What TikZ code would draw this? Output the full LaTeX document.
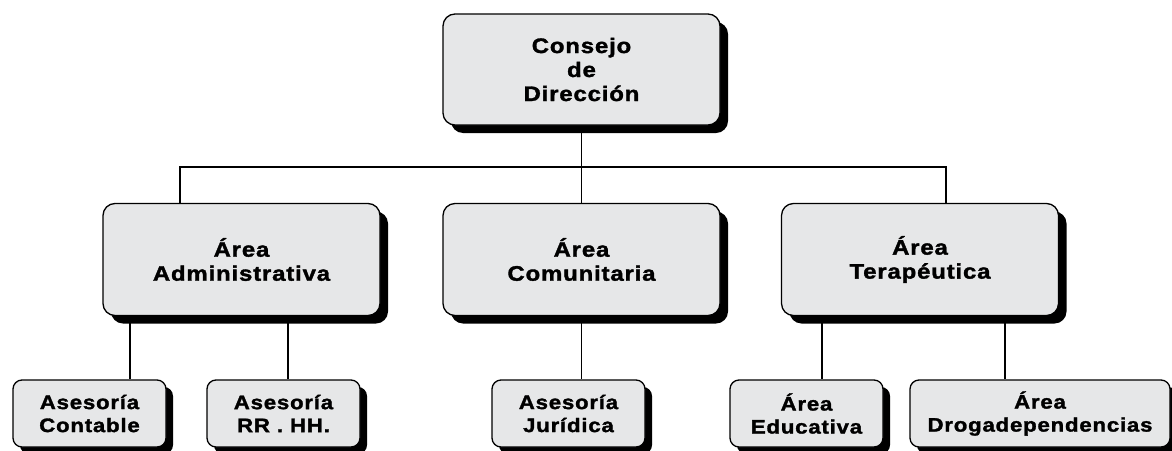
\documentclass[tikz,border=0pt]{standalone}
\usepackage{fontspec}
\setmainfont{Liberation Sans}[FakeStretch=1.14, LetterSpace=4, FakeBold=1.6]
\usetikzlibrary{shadows,backgrounds}
\definecolor{boxgray}{HTML}{E6E7E8}
\tikzset{
  box/.style={draw=black, line width=1.3pt, fill=boxgray, align=center,
    inner sep=0pt, text=black},
  bigbox/.style={box, rounded corners=12pt, minimum width=277pt, minimum height=111pt,
    font=\fontsize{21}{24}\selectfont,
    drop shadow={shadow xshift=8pt, shadow yshift=-8pt, fill=black, opacity=1}},
  smallbox/.style={box, rounded corners=9pt, minimum height=67pt,
    font=\fontsize{19.5}{23}\selectfont,
    drop shadow={shadow xshift=7pt, shadow yshift=-7pt, fill=black, opacity=1}},
  conn/.style={line width=1.5pt, draw=black}
}
\begin{document}
\begin{tikzpicture}[x=1pt,y=-1pt]
\useasboundingbox (0,0) rectangle (1172,450);
% top
\node[bigbox] (top) at (581.5,69.5) {\bfseries Consejo\\\bfseries de\\\bfseries Dirección};
% middle
\node[bigbox, minimum height=112pt] (adm) at (241.5,259.5) {\bfseries Área\\\bfseries Administrativa};
\node[bigbox, minimum height=112pt] (com) at (581.5,259.5) {\bfseries Área\\\bfseries Comunitaria};
\node[bigbox, minimum height=112pt] (ter) at (920,259.5) {\bfseries Área\\\bfseries Terapéutica};
% bottom
\node[smallbox, minimum width=153pt] (cont) at (89.5,413.5) {\bfseries Asesoría\\\bfseries Contable};
\node[smallbox, minimum width=153pt] (rrhh) at (283.5,413.5) {\bfseries Asesoría\\\bfseries RR . HH.};
\node[smallbox, minimum width=153pt] (jur) at (568.5,413.5) {\bfseries Asesoría\\\bfseries Jurídica};
\node[smallbox, minimum width=153pt] (edu) at (806.5,413.5) {\bfseries Área\\\bfseries Educativa};
\node[smallbox, minimum width=260pt] (dro) at (1040,413.5) {\bfseries Área\\\bfseries Drogadependencias};
% connectors
\coordinate (busL) at (180,167);
\coordinate (busR) at (946,167);
\coordinate (a1) at (130,330);
\coordinate (a2) at (288,330);
\coordinate (c1) at (581.5,330);
\coordinate (t1) at (822,330);
\coordinate (t2) at (1005,330);
\begin{pgfonlayer}{background}
\draw[conn] (top.south) -- (top.south |- busL);
\draw[conn] (busL |- adm.north) -- (busL) -- (busR) -- (busR |- ter.north);
\draw[conn] (com.north) -- (com.north |- busL);
\draw[conn] (a1 |- adm.south) -- (a1 |- cont.north);
\draw[conn] (a2 |- adm.south) -- (a2 |- rrhh.north);
\draw[conn] (c1 |- com.south) -- (c1 |- jur.north);
\draw[conn] (t1 |- ter.south) -- (t1 |- edu.north);
\draw[conn] (t2 |- ter.south) -- (t2 |- dro.north);
\end{pgfonlayer}
\end{tikzpicture}
\end{document}
